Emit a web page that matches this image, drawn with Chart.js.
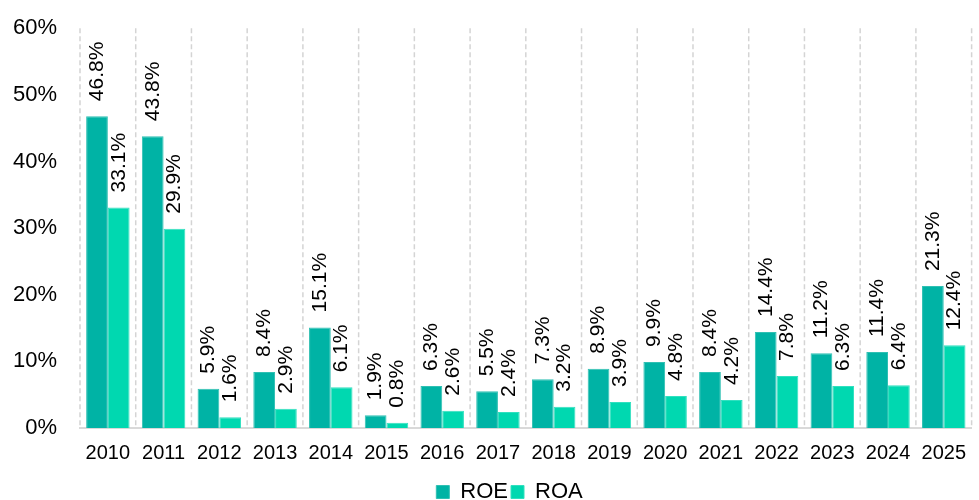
<!DOCTYPE html>
<html>
<head>
<meta charset="utf-8">
<script src="https://cdn.jsdelivr.net/npm/chart.js@4"></script>
<style>
  html, body { margin: 0; padding: 0; background: #fff; }
  #wrap { width: 979px; height: 500px; }
</style>
</head>
<body>
<div id="wrap"><canvas id="roeChart"></canvas></div>
<script>
// Yearly return figures (%)
const years = ['2010', '2011', '2012', '2013', '2014', '2015', '2016', '2017',
               '2018', '2019', '2020', '2021', '2022', '2023', '2024', '2025'];
const roeValues = [46.8, 43.8, 5.9, 8.4, 15.1, 1.9, 6.3, 5.5, 7.3, 8.9, 9.9, 8.4, 14.4, 11.2, 11.4, 21.3];
const roaValues = [33.1, 29.9, 1.6, 2.9, 6.1, 0.8, 2.6, 2.4, 3.2, 3.9, 4.8, 4.2, 7.8, 6.3, 6.4, 12.4];

const FONT = "Arial, 'Liberation Sans', sans-serif";

// Dashed vertical separators between the year groups
const yearSeparators = {
    id: 'yearSeparators',
    beforeDatasetsDraw(chart) {
        const { ctx, chartArea } = chart;
        const x = chart.scales.x;
        const half = (x.getPixelForValue(1) - x.getPixelForValue(0)) / 2;
        ctx.save();
        ctx.strokeStyle = '#d4d4d4';
        ctx.lineWidth = 1.5;
        ctx.setLineDash([5, 3]);
        for (let i = 0; i <= years.length; i++) {
            const px = x.getPixelForValue(i) - half;
            ctx.beginPath();
            ctx.moveTo(px, chartArea.top);
            ctx.lineTo(px, chartArea.bottom);
            ctx.stroke();
        }
        ctx.restore();
    }
};

// Rotated value labels above each bar
const barLabels = {
    id: 'barLabels',
    afterDatasetsDraw(chart) {
        const ctx = chart.ctx;
        ctx.save();
        ctx.font = '21px ' + FONT;
        ctx.fillStyle = '#000';
        ctx.textAlign = 'left';
        ctx.textBaseline = 'middle';
        chart.data.datasets.forEach((ds, i) => {
            const meta = chart.getDatasetMeta(i);
            meta.data.forEach((bar, j) => {
                ctx.save();
                ctx.translate(bar.x, bar.y - 15);
                ctx.rotate(-Math.PI / 2);
                ctx.fillText(ds.data[j].toFixed(1) + '%', 0, 0);
                ctx.restore();
            });
        });
        ctx.restore();
    }
};

// nudge the legend a little to the right of centre
const legendShift = {
    id: 'legendShift',
    afterLayout(chart) {
        chart.legend.left += 40;
    }
};

const ctx = document.getElementById('roeChart').getContext('2d');
const roeChart = new Chart(ctx, {
    type: 'bar',
    data: {
        labels: years,
        datasets: [{
            label: 'ROE',
            data: roeValues,
            backgroundColor: '#00b3a5',
            borderColor: '#2fc0b3',
            borderWidth: 1,
            categoryPercentage: 0.78,
            barPercentage: 1
        }, {
            label: 'ROA',
            data: roaValues,
            backgroundColor: '#00d8b0',
            borderColor: '#30e0bf',
            borderWidth: 1,
            categoryPercentage: 0.78,
            barPercentage: 1
        }]
    },
    options: {
        responsive: true,
        maintainAspectRatio: false,
        animation: false,
        layout: { padding: { top: 9, right: 0, left: 0, bottom: -13 } },
        plugins: {
            legend: {
                position: 'bottom',
                labels: {
                    font: { size: 22, family: FONT },
                    color: '#000',
                    boxWidth: 13,
                    boxHeight: 13,
                    padding: 3
                }
            },
            tooltip: { enabled: false }
        },
        scales: {
            x: {
                grid: { drawOnChartArea: false, drawTicks: false },
                border: { display: true, color: '#d9d9d9', width: 2 },
                ticks: {
                    font: { size: 20, family: FONT },
                    color: '#000',
                    padding: 13
                }
            },
            y: {
                min: 0,
                max: 60,
                afterFit: (scale) => { scale.width = 80; },
                grid: { display: false },
                border: { display: false },
                ticks: {
                    stepSize: 10,
                    font: { size: 22, family: FONT },
                    color: '#000',
                    padding: 15,
                    callback: (v) => v + '%'
                }
            }
        }
    },
    plugins: [yearSeparators, barLabels, legendShift]
});
</script>
</body>
</html>
